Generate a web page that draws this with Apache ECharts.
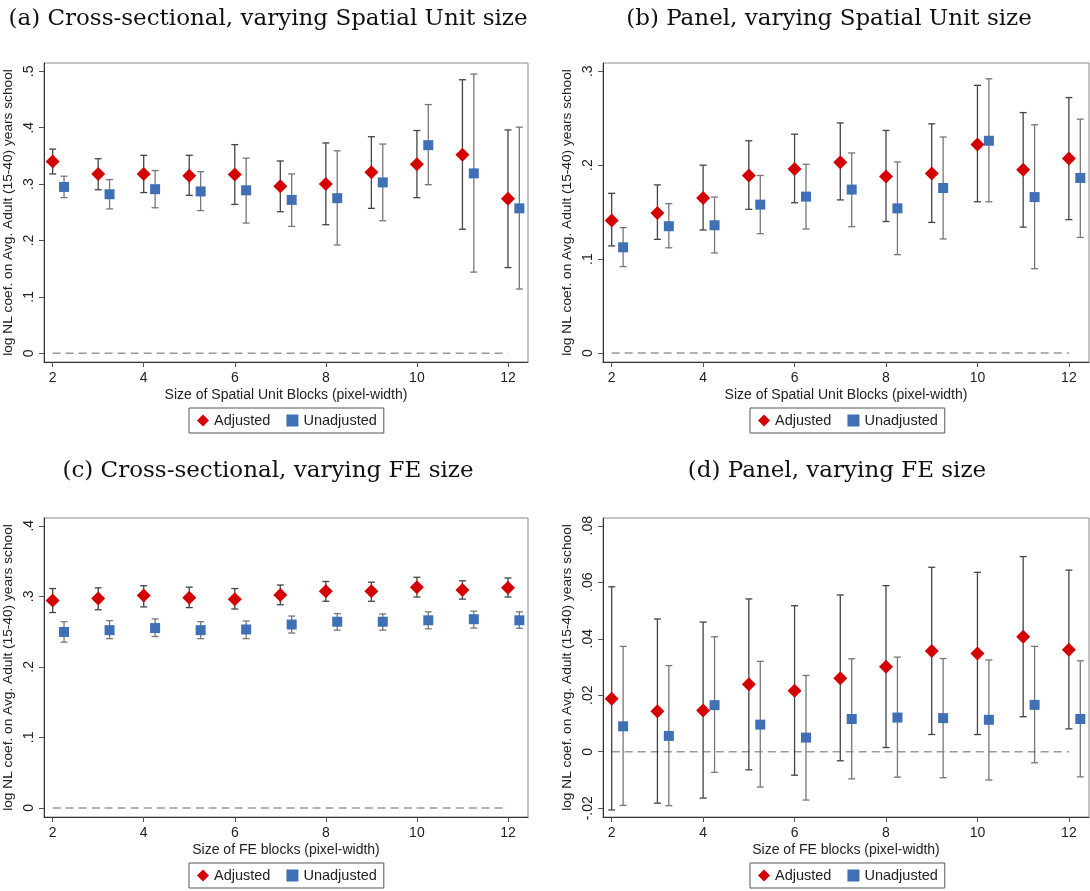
<!DOCTYPE html>
<html>
<head>
<meta charset="utf-8">
<script src="https://cdn.jsdelivr.net/npm/echarts@6/dist/echarts.min.js"></script>
<style>
  html, body { margin: 0; padding: 0; background: #fff; }
  #chart { width: 1090px; height: 891px; }
</style>
</head>
<body>
<div id="chart"></div>
<script>
// block sizes (pixel-width) on the x axis
const sizes = [2, 3, 4, 5, 6, 7, 8, 9, 10, 11, 12];
const xTicks = [2, 4, 6, 8, 10, 12];

// (a) cross-sectional, varying spatial unit size
const aAdjEst = [0.340, 0.318, 0.318, 0.315, 0.317, 0.296, 0.300, 0.321, 0.335, 0.352, 0.274];
const aAdjLo  = [0.318, 0.290, 0.285, 0.280, 0.264, 0.251, 0.228, 0.257, 0.276, 0.220, 0.152];
const aAdjHi  = [0.362, 0.345, 0.351, 0.351, 0.370, 0.341, 0.373, 0.384, 0.395, 0.485, 0.396];
const aUnEst  = [0.295, 0.282, 0.291, 0.287, 0.289, 0.272, 0.275, 0.303, 0.369, 0.319, 0.257];
const aUnLo   = [0.276, 0.256, 0.258, 0.253, 0.231, 0.225, 0.192, 0.235, 0.299, 0.144, 0.114];
const aUnHi   = [0.314, 0.308, 0.324, 0.322, 0.346, 0.318, 0.359, 0.371, 0.441, 0.495, 0.401];

// (b) panel, varying spatial unit size
const bAdjEst = [0.141, 0.149, 0.165, 0.189, 0.196, 0.203, 0.188, 0.191, 0.222, 0.195, 0.207];
const bAdjLo  = [0.114, 0.121, 0.131, 0.153, 0.160, 0.163, 0.140, 0.139, 0.161, 0.134, 0.142];
const bAdjHi  = [0.170, 0.179, 0.200, 0.226, 0.233, 0.245, 0.237, 0.244, 0.285, 0.256, 0.272];
const bUnEst  = [0.1125, 0.135, 0.136, 0.158, 0.1665, 0.174, 0.154, 0.1757, 0.226, 0.166, 0.1864];
const bUnLo   = [0.092, 0.112, 0.1065, 0.127, 0.132, 0.1345, 0.1047, 0.1214, 0.161, 0.0898, 0.123];
const bUnHi   = [0.1335, 0.159, 0.166, 0.189, 0.201, 0.213, 0.2034, 0.230, 0.292, 0.243, 0.249];

// (c) cross-sectional, varying FE size
const cAdjEst = [0.294, 0.297, 0.301, 0.298, 0.296, 0.302, 0.307, 0.307, 0.313, 0.309, 0.312];
const cAdjLo  = [0.277, 0.281, 0.285, 0.284, 0.282, 0.288, 0.293, 0.293, 0.299, 0.296, 0.299];
const cAdjHi  = [0.311, 0.312, 0.315, 0.313, 0.311, 0.316, 0.321, 0.320, 0.327, 0.322, 0.326];
const cUnEst  = [0.2495, 0.252, 0.255, 0.252, 0.253, 0.260, 0.264, 0.264, 0.266, 0.2675, 0.266];
const cUnLo   = [0.235, 0.240, 0.243, 0.240, 0.240, 0.248, 0.252, 0.252, 0.254, 0.255, 0.2547];
const cUnHi   = [0.264, 0.2656, 0.268, 0.264, 0.265, 0.272, 0.2755, 0.275, 0.278, 0.279, 0.278];

// (d) panel, varying FE size
const dAdjEst = [0.0188, 0.0143, 0.0146, 0.0239, 0.0216, 0.0260, 0.0301, 0.0357, 0.0348, 0.0407, 0.0361];
const dAdjLo  = [-0.0206, -0.0182, -0.0164, -0.0064, -0.0083, -0.0032, 0.0015, 0.0061, 0.0061, 0.0124, 0.0081];
const dAdjHi  = [0.0584, 0.0470, 0.0459, 0.0541, 0.0517, 0.0555, 0.0588, 0.0653, 0.0635, 0.0691, 0.0643];
const dUnEst  = [0.0090, 0.0056, 0.0165, 0.0096, 0.0050, 0.0116, 0.0121, 0.0119, 0.0113, 0.0166, 0.0116];
const dUnLo   = [-0.0190, -0.0191, -0.0073, -0.0125, -0.0171, -0.0096, -0.0090, -0.0092, -0.0100, -0.0039, -0.0089];
const dUnHi   = [0.0373, 0.0305, 0.0407, 0.0320, 0.0270, 0.0329, 0.0335, 0.0330, 0.0325, 0.0373, 0.0322];

const yTicksA = [0, 0.1, 0.2, 0.3, 0.4, 0.5];
const yTicksB = [0, 0.1, 0.2, 0.3];
const yTicksC = [0, 0.1, 0.2, 0.3, 0.4];
const yTicksD = [-0.02, 0, 0.02, 0.04, 0.06, 0.08];

const titles = [
  '(a) Cross-sectional, varying Spatial Unit size',
  '(b) Panel, varying Spatial Unit size',
  '(c) Cross-sectional, varying FE size',
  '(d) Panel, varying FE size'
];
const xNames = [
  'Size of Spatial Unit Blocks (pixel-width)',
  'Size of Spatial Unit Blocks (pixel-width)',
  'Size of FE blocks (pixel-width)',
  'Size of FE blocks (pixel-width)'
];
const yName = 'log NL coef. on Avg. Adult (15-40) years school';

const DODGE = 0.25;   // unadjusted markers sit a quarter step to the right
const RED = '#d40000';
const BLUE = '#3f6fb5';
const SANS = 'Liberation Sans, Arial, sans-serif';

const panels = [
  { adj: [aAdjEst, aAdjLo, aAdjHi], un: [aUnEst, aUnLo, aUnHi], ticks: yTicksA, min: -0.0154, max: 0.5147,
    left: 41, top: 63, width: 487, height: 299, titleX: 263, titleY: 3, legendX: 189, legendY: 408 },
  { adj: [bAdjEst, bAdjLo, bAdjHi], un: [bUnEst, bUnLo, bUnHi], ticks: yTicksB, min: -0.0096, max: 0.3088,
    left: 603, top: 63, width: 486, height: 299, titleX: 824, titleY: 3, legendX: 750, legendY: 408 },
  { adj: [cAdjEst, cAdjLo, cAdjHi], un: [cUnEst, cUnLo, cUnHi], ticks: yTicksC, min: -0.0128, max: 0.411,
    left: 41, top: 518, width: 487, height: 299, titleX: 263, titleY: 455, legendX: 189, legendY: 863 },
  { adj: [dAdjEst, dAdjLo, dAdjHi], un: [dUnEst, dUnLo, dUnHi], ticks: yTicksD, min: -0.0231, max: 0.08275,
    left: 603, top: 518, width: 486, height: 299, titleX: 832, titleY: 455, legendX: 750, legendY: 863 }
];

function fmtTick(v) {
  const s = String(+v.toFixed(3));
  return s.replace(/^(-?)0\./, '$1.');
}

function errorBars(idx, xs, lo, hi, color) {
  return {
    type: 'custom',
    xAxisIndex: idx,
    yAxisIndex: idx,
    silent: true,
    z: 1,
    encode: { x: 0, y: [1, 2] },
    data: xs.map((x, i) => [x, lo[i], hi[i]]),
    renderItem: (params, api) => {
      const x = api.value(0);
      const l = api.coord([x, api.value(1)]);
      const h = api.coord([x, api.value(2)]);
      const w = 3.5;
      const st = { stroke: color, lineWidth: 1.3 };
      return {
        type: 'group',
        children: [
          { type: 'line', shape: { x1: l[0], y1: l[1], x2: h[0], y2: h[1] }, style: st },
          { type: 'line', shape: { x1: l[0] - w, y1: l[1], x2: l[0] + w, y2: l[1] }, style: st },
          { type: 'line', shape: { x1: h[0] - w, y1: h[1], x2: h[0] + w, y2: h[1] }, style: st }
        ]
      };
    }
  };
}

const grid = [], xAxis = [], yAxis = [], series = [], title = [], legend = [];

panels.forEach((p, i) => {
  const unX = sizes.map(s => s + DODGE);
  grid.push({ left: p.left, top: p.top, width: p.width, height: p.height,
    show: true, borderColor: '#8a8a8a', borderWidth: 1, backgroundColor: '#fff' });
  xAxis.push({
    type: 'value', gridIndex: i, min: 1.81, max: 12.44,
    name: xNames[i], nameLocation: 'middle', nameGap: 26,
    nameTextStyle: { fontFamily: SANS, fontSize: 14, color: '#222' },
    axisLine: { show: true, onZero: false, lineStyle: { color: '#333', width: 1 } },
    axisTick: { show: true, length: 5, customValues: xTicks, lineStyle: { color: '#555' } },
    axisLabel: { customValues: xTicks, margin: 9, fontFamily: SANS, fontSize: 14, color: '#222' },
    splitLine: { show: false }
  });
  yAxis.push({
    type: 'value', gridIndex: i, min: p.min, max: p.max,
    name: yName, nameLocation: 'middle', nameRotate: 90, nameGap: 29,
    nameTextStyle: { fontFamily: SANS, fontSize: 13.7, color: '#222' },
    axisLine: { show: true, onZero: false, lineStyle: { color: '#333', width: 1 } },
    axisTick: { show: true, length: 5, customValues: p.ticks, lineStyle: { color: '#555' } },
    axisLabel: { customValues: p.ticks, rotate: 90, margin: 8, fontFamily: SANS, fontSize: 14,
      color: '#222', formatter: fmtTick },
    splitLine: { show: false }
  });
  title.push({ text: titles[i], left: p.titleX, top: p.titleY, textAlign: 'center',
    textStyle: { fontFamily: 'DejaVu Serif', fontWeight: 'normal', fontSize: 23, color: '#111' } });
  legend.push({
    left: p.legendX, top: p.legendY, orient: 'horizontal',
    borderColor: '#555', borderWidth: 1, padding: [5, 7, 5, 8], itemGap: 16,
    itemWidth: 12, itemHeight: 12,
    textStyle: { fontFamily: SANS, fontSize: 14.5, color: '#222' },
    data: [{ name: 'Adjusted', icon: 'diamond' }, { name: 'Unadjusted', icon: 'rect' }],
    selectedMode: false
  });

  series.push({
    type: 'line', xAxisIndex: i, yAxisIndex: i, silent: true, symbol: 'none', z: 0,
    data: [[2, 0], [12, 0]],
    lineStyle: { color: '#999', width: 1.5, type: [8, 5] }
  });
  series.push(errorBars(i, sizes, p.adj[1], p.adj[2], '#444'));
  series.push(errorBars(i, unX, p.un[1], p.un[2], '#777'));
  series.push({
    name: 'Adjusted', type: 'scatter', xAxisIndex: i, yAxisIndex: i, z: 3,
    symbol: 'diamond', symbolSize: 14, itemStyle: { color: RED, opacity: 1 },
    data: sizes.map((s, k) => [s, p.adj[0][k]])
  });
  series.push({
    name: 'Unadjusted', type: 'scatter', xAxisIndex: i, yAxisIndex: i, z: 3,
    symbol: 'rect', symbolSize: 10, itemStyle: { color: BLUE, opacity: 1 },
    data: unX.map((s, k) => [s, p.un[0][k]])
  });
});

const chart = echarts.init(document.getElementById('chart'));
chart.setOption({
  backgroundColor: '#fff',
  animation: false,
  title, legend, grid, xAxis, yAxis, series
});
</script>
</body>
</html>
